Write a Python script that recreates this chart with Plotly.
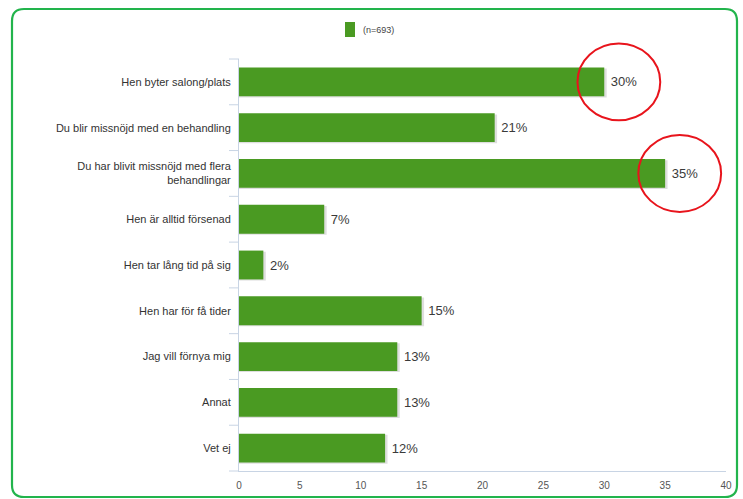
import plotly.graph_objects as go

categories = [
    "Hen byter salong/plats",
    "Du blir missnöjd med en behandling",
    "Du har blivit missnöjd med flera<br>behandlingar",
    "Hen är alltid försenad",
    "Hen tar lång tid på sig",
    "Hen har för få tider",
    "Jag vill förnya mig",
    "Annat",
    "Vet ej",
]
values = [30, 21, 35, 7, 2, 15, 13, 13, 12]
labels = [f" {v}%" for v in values]
series_name = "(n=693)"
x_ticks = [0, 5, 10, 15, 20, 25, 30, 35, 40]
highlighted = [0, 2]  # indices circled in red
XMAX = 40

W, H = 743, 499
L, R, T, B = 239, 17, 59, 28
pw, ph = W - L - R, H - T - B
n = len(categories)

def px2paper(x, y):
    return (x - L) / pw, (H - B - y) / ph

def cat2paper(i):
    return 1 - (i + 0.5) / n

fig = go.Figure()

# subtle shadow behind bars
fig.add_trace(go.Bar(
    y=list(range(n)), x=[v + 0.2 for v in values], orientation="h",
    width=0.63, offset=-0.29, marker=dict(color="rgba(0,0,0,0.13)", line=dict(width=0)),
    showlegend=False, hoverinfo="skip",
))
fig.add_trace(go.Bar(
    y=list(range(n)), x=values, orientation="h", name=series_name,
    width=0.63, offset=-0.315,
    marker=dict(color="#4a9a22", line=dict(width=0)),
    text=labels, textposition="outside", cliponaxis=False,
    textfont=dict(family="Liberation Sans, Arial, sans-serif", size=13, color="#3a3a3a"),
    showlegend=False,
))

shapes = []
# red circles around highlighted bars (paper refs so they are not clipped)
for i in highlighted:
    cx = (values[i] + 1.2) / XMAX
    cy = cat2paper(i)
    rx, ry = 3.4 / XMAX, 0.84 / n
    shapes.append(dict(type="circle", xref="paper", yref="paper",
                       x0=cx - rx, x1=cx + rx, y0=cy - ry, y1=cy + ry,
                       line=dict(color="#e8141c", width=2)))

# green rounded border
x0, y0, x1, y1, r = 12, 9, 737, 497, 12
def P(x, y):
    a, b = px2paper(x, y)
    return f"{a:.5f},{b:.5f}"
path = (f"M {P(x0+r,y0)} L {P(x1-r,y0)} Q {P(x1,y0)} {P(x1,y0+r)} "
        f"L {P(x1,y1-r)} Q {P(x1,y1)} {P(x1-r,y1)} L {P(x0+r,y1)} "
        f"Q {P(x0,y1)} {P(x0,y1-r)} L {P(x0,y0+r)} Q {P(x0,y0)} {P(x0+r,y0)} Z")
shapes.append(dict(type="path", xref="paper", yref="paper", path=path,
                   line=dict(color="#22b44c", width=2.2)))

# manual legend
sx0, sy0 = px2paper(345, 37)
sx1, sy1 = px2paper(355, 22)
shapes.append(dict(type="rect", xref="paper", yref="paper", x0=sx0, x1=sx1, y0=sy0, y1=sy1,
                   fillcolor="#4a9a22", line=dict(width=0)))
tx, ty = px2paper(361, 30)
annotations = [dict(xref="paper", yref="paper", x=tx, y=ty, xanchor="left", yanchor="middle",
                    text=series_name, showarrow=False, font=dict(size=9, color="#444"))]

# boundary tick marks on the category axis
for k in range(n + 1):
    yk = 1 - k / n
    shapes.append(dict(type="line", xref="paper", yref="paper",
                       x0=-10 / pw, x1=0, y0=yk, y1=yk,
                       line=dict(color="#c8d4e4", width=1)))

fig.update_layout(
    width=W, height=H,
    margin=dict(l=L, r=R, t=T, b=B, autoexpand=False),
    paper_bgcolor="white", plot_bgcolor="white",
    barmode="overlay",
    font=dict(family="Liberation Sans, Arial, sans-serif", color="#333"),
    showlegend=False,
    shapes=shapes,
    annotations=annotations,
    xaxis=dict(range=[0, XMAX], tickvals=x_ticks, showgrid=False, zeroline=False,
               showline=True, linecolor="#c8d4e4", linewidth=1, automargin=False,
               ticks="", ticklabelstandoff=5, tickfont=dict(size=10, color="#555")),
    yaxis=dict(tickvals=list(range(n)), ticktext=categories,
               range=[n - 0.5, -0.5], automargin=False,
               showgrid=False, zeroline=False, showline=True, linecolor="#c8d4e4",
               ticks="", ticklabelstandoff=5, tickfont=dict(size=11, color="#333")),
)

fig.write_html("out.html")
